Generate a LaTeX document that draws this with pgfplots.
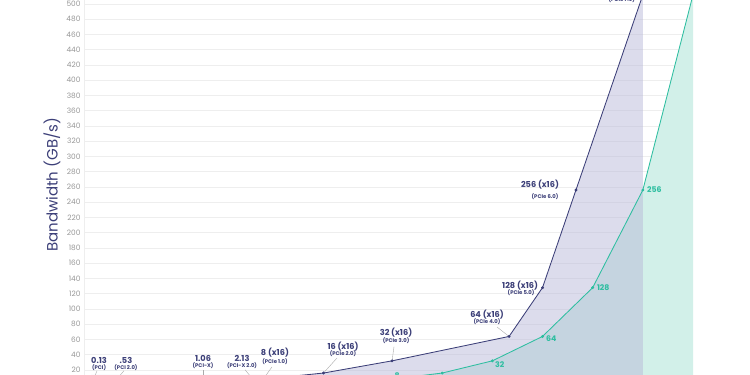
\documentclass[border=0pt]{standalone}
\usepackage{fontspec}
\setmainfont{Poppins}
\usepackage{pgfplots}
\pgfplotsset{compat=1.18}
\definecolor{navyc}{RGB}{60,63,120}
\definecolor{lavc}{RGB}{185,185,217}
\definecolor{tealc}{RGB}{45,190,160}
\definecolor{tealfill}{RGB}{210,240,233}
\definecolor{gridc}{RGB}{238,238,238}
\definecolor{tickc}{RGB}{150,150,150}
\definecolor{leaderc}{RGB}{170,170,170}
\tikzset{
  pl/.style={font=\fontsize{8.2}{9}\selectfont\bfseries, text=navyc, inner sep=0pt},
  ps/.style={font=\fontsize{5.3}{6}\selectfont\bfseries, text=navyc, inner sep=0pt},
  gl/.style={font=\fontsize{7.8}{8}\selectfont\bfseries, text=tealc, inner sep=0pt},
  ld/.style={draw=leaderc, line width=0.4pt},
}
\begin{document}
\begin{tikzpicture}
\useasboundingbox (0,0) rectangle (750pt,375pt);
\begin{axis}[
  at={(84pt,0pt)}, anchor=south west,
  scale only axis, width=609pt, height=375pt,
  xmin=1991.58, xmax=2028.0, ymin=13.44, ymax=505.25,
  axis x line=none, axis y line*=left,
  axis line style={draw=gridc, -},
  ytick={20,40,...,500}, ymajorgrids,
  grid style={draw=gridc, line width=0.6pt},
  major tick length=0pt,
  /pgf/number format/assume math mode=true,
  yticklabel style={font=\fontsize{7.4}{8}\selectfont, text=tickc},
  ylabel={Bandwidth (GB/s)},
  ylabel style={font=\fontsize{15}{16}\selectfont, text=navyc, at={(axis description cs:-0.0525,0.507)}, anchor=center},
]
% teal area (next-generation roadmap)
\addplot[draw=none, fill=tealfill] coordinates {
  (2010,0) (2010,8) (2013,16) (2016,32) (2019,64) (2022,128) (2025,256) (2028,512) (2028,0)
} \closedcycle;
% purple area (x16 bandwidth)
\addplot[draw=none, fill=lavc, fill opacity=0.5] coordinates {
  (1992,0) (1992,0.13) (1993.25,0.53) (1998.7,1.06) (2001.9,2.13) (2002.3,8) (2005.9,16) (2010,32) (2017,64) (2019,128) (2021,256) (2025,512) (2025,0)
} \closedcycle;
% lines
\addplot[color=tealc, line width=0.85pt, mark=*, mark size=1pt] coordinates {
  (2010,8) (2013,16) (2016,32) (2019,64) (2022,128) (2025,256) (2028,512)
};
\addplot[color=navyc, line width=0.85pt, mark=*, mark size=1pt] coordinates {
  (1992,0.13) (1993.25,0.53) (1998.7,1.06) (2001.9,2.13) (2002.3,8) (2005.9,16) (2010,32) (2017,64) (2019,128) (2021,256) (2025,512)
};
% leader lines
\draw[ld] (axis cs:2016.28,76.4) -- (axis cs:2017,64);
\draw[ld] (axis cs:2010.12,50.5) -- (axis cs:2010,32);
\draw[ld] (axis cs:2006.71,35.7) -- (axis cs:2005.9,16);
\draw[ld] (axis cs:2002.82,24) -- (axis cs:2002.3,8);
\draw[ld] (axis cs:2001.21,20.3) -- (axis cs:2001.9,2.13);
\draw[ld] (axis cs:1998.7,20.3) -- (axis cs:1998.7,1.06);
\draw[ld] (axis cs:1993.97,19) -- (axis cs:1993.25,0.53);
\draw[ld] (axis cs:1992.36,19) -- (axis cs:1992,0.13);
% purple labels
\node[ps, anchor=east] at (axis cs:2024.53,505.25) {(PCIe 7.0)};
\node[pl] at (axis cs:2018.85,262.6) {256 (x16)};
\node[ps] at (axis cs:2019.15,246.9) {(PCIe 6.0)};
\node[pl] at (axis cs:2017.66,130.2) {128 (x16)};
\node[ps] at (axis cs:2017.72,121.0) {(PCIe 5.0)};
\node[pl] at (axis cs:2015.68,92.1) {64 (x16)};
\node[ps] at (axis cs:2015.68,83.0) {(PCIe 4.0)};
\node[pl] at (axis cs:2010.24,68.5) {32 (x16)};
\node[ps] at (axis cs:2010.24,58.0) {(PCIe 3.0)};
\node[pl] at (axis cs:2007.07,50.2) {16 (x16)};
\node[ps] at (axis cs:2007.07,41.0) {(PCIe 2.0)};
\node[pl] at (axis cs:2003.0,42.3) {8 (x16)};
\node[ps] at (axis cs:2003.0,30.5) {(PCIe 1.0)};
\node[pl] at (axis cs:2001.03,35.7) {2.13};
\node[ps] at (axis cs:2001.03,25.2) {(PCI-X 2.0)};
\node[pl] at (axis cs:1998.7,35.7) {1.06};
\node[ps] at (axis cs:1998.7,25.2) {(PCI-X)};
\node[pl] at (axis cs:1994.09,33.1) {.53};
\node[ps] at (axis cs:1994.09,22.6) {(PCI 2.0)};
\node[pl] at (axis cs:1992.48,33.1) {0.13};
\node[ps] at (axis cs:1992.48,22.6) {(PCI)};
% teal labels
\node[gl, anchor=west] at (axis cs:2025.25,256) {256};
\node[gl, anchor=west] at (axis cs:2022.25,128) {128};
\node[gl, anchor=west] at (axis cs:2019.2,61) {64};
\node[gl, anchor=west] at (axis cs:2016.15,26.5) {32};
\node[gl, anchor=west] at (axis cs:2010.15,12) {8};
\end{axis}
\end{tikzpicture}
\end{document}
